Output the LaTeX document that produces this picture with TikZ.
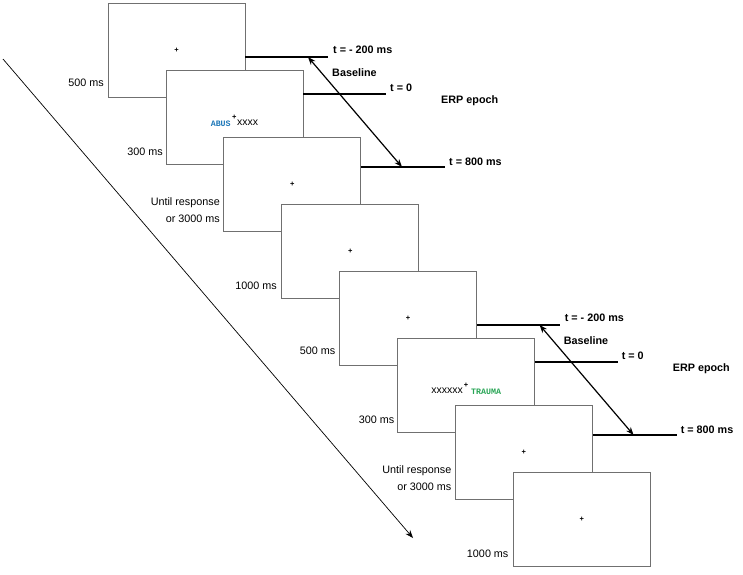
\documentclass[tikz,border=0pt]{standalone}
\usepackage{fontspec}
\setmainfont{Liberation Sans}
\newfontfamily\wordfont{Liberation Mono}
\usetikzlibrary{arrows.meta,calc}
\definecolor{boxgray}{RGB}{112,112,112}
\definecolor{wordblue}{RGB}{30,120,185}
\definecolor{wordgreen}{RGB}{40,165,85}
\begin{document}
\begin{tikzpicture}[x=1pt,y=-1pt,
  stim/.style={draw=boxgray,line width=0.8pt,fill=white,minimum width=137pt,minimum height=94pt,inner sep=0pt},
  fix/.style={inner sep=0pt,font=\bfseries\fontsize{7.5}{7.5}\selectfont},
  word/.style={inner sep=0pt,font=\wordfont\bfseries\fontsize{8.3}{9}\selectfont},
  xs/.style={inner sep=0pt,font=\fontsize{10.5}{12}\selectfont},
  dur/.style={anchor=east,inner sep=0pt,font=\fontsize{10.8}{17}\selectfont,align=right},
  tline/.style={line width=1.3pt},
  tlab/.style={anchor=west,inner sep=0pt,font=\fontsize{10.8}{13}\selectfont\bfseries},
  darrow/.style={line width=1.2pt,{Stealth[length=8pt,width=6pt]}-{Stealth[length=8pt,width=6pt]}},
  longarrow/.style={line width=0.7pt,-{Stealth[length=8pt,width=6pt]}}]
\useasboundingbox (0,0) rectangle (743,574);

% time arrow
\coordinate (ls) at (3,59);
\coordinate (le) at (413,538);
\draw[longarrow] (ls) -- (le);

% stimulus screens
\node[stim] (b0) at (176.5,50) {};
\node[stim] (b1) at (234.4,117) {};
\node[stim] (b2) at (292.3,184) {};
\node[stim] (b3) at (350.2,251) {};
\node[stim] (c0) at (408.1,318) {};
\node[stim] (c1) at (466.0,385) {};
\node[stim] (c2) at (523.9,452) {};
\node[stim] (c3) at (581.8,519) {};

% fixation crosses
\foreach \b in {b0,b1,b2,b3,c0,c1,c2,c3}
  \node[fix] (f\b) at (\b.center) {+};

% words
\node[word,text=wordblue,anchor=east] (wa) at ($(b1.center)+(-3.5,7)$) {ABUS};
\node[xs,anchor=west] (xa) at ($(b1.center)+(2.5,6)$) {xxxx};
\node[xs,anchor=east] (xb) at ($(c1.center)+(-3,6)$) {xxxxxx};
\node[word,text=wordgreen,anchor=west] (wb) at ($(c1.center)+(5,7)$) {TRAUMA};

% durations
\node[dur] (d0) at (104,83) {500 ms};
\node[dur] (d1) at (163,152) {300 ms};
\node[dur] (d2) at (220,210.5) {Until response\\or 3000 ms};
\node[dur] (d3) at (277,286) {1000 ms};
\node[dur] (e0) at (335.6,351) {500 ms};
\node[dur] (e1) at (394.6,420) {300 ms};
\node[dur] (e2) at (451.6,478.5) {Until response\\or 3000 ms};
\node[dur] (e3) at (508.6,554) {1000 ms};

% first trial timeline
\coordinate (am) at (328,57);
\coordinate (az) at (386,94);
\coordinate (ae) at (445,167);
\draw[tline] (b0.east |- am) -- (am);
\draw[tline] (b1.east |- az) -- (az);
\draw[tline] (b2.east |- ae) -- (ae);
\node[tlab] (tam) at (333,50) {t = - 200 ms};
\node[tlab] (taz) at (390,88) {t = 0};
\node[tlab] (tae) at (449,162) {t = 800 ms};
\node[tlab] (bla) at (332,73) {Baseline};
\node[tlab] (erpa) at (441,101) {ERP epoch};
\coordinate (da1) at (308,57);
\coordinate (da2) at (402,167);
\draw[darrow] (da1) -- (da2);

% second trial timeline
\begin{scope}[shift={(231.6,268)}]
\coordinate (bm) at (328,57);
\coordinate (bz) at (386,94);
\coordinate (be) at (445,167);
\node[tlab] (tbm) at (333,50) {t = - 200 ms};
\node[tlab] (tbz) at (390,88) {t = 0};
\node[tlab] (tbe) at (449,162) {t = 800 ms};
\node[tlab] (blb) at (332,73) {Baseline};
\node[tlab] (erpb) at (441,101) {ERP epoch};
\coordinate (db1) at (308,57);
\coordinate (db2) at (402,167);
\end{scope}
\draw[tline] (c0.east |- bm) -- (bm);
\draw[tline] (c1.east |- bz) -- (bz);
\draw[tline] (c2.east |- be) -- (be);
\draw[darrow] (db1) -- (db2);
\end{tikzpicture}
\end{document}
